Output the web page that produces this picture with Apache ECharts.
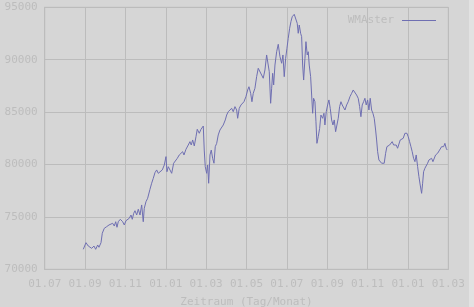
<!DOCTYPE html>
<html><head><meta charset="utf-8">
<script src="https://cdn.jsdelivr.net/npm/echarts@6/dist/echarts.min.js"></script>
<style>html,body{margin:0;padding:0;background:#e2e2e2;}#c{width:469px;height:307px;background:#d6d6d6;}</style>
</head><body><div id="c"></div>
<script>
// time position in two-month steps since 01.07 (first year)
const timeSteps = [0.956,1.023,1.080,1.122,1.164,1.221,1.263,1.313,1.345,1.395,1.427,1.476,1.536,1.593,1.642,1.684,1.724,1.759,1.791,1.823,1.873,1.907,1.932,1.972,2.014,2.056,2.096,2.138,2.170,2.205,2.237,2.279,2.319,2.361,2.403,2.442,2.467,2.509,2.551,2.608,2.650,2.690,2.732,2.774,2.814,2.856,2.913,2.963,3.005,3.029,3.062,3.111,3.146,3.195,
3.228,3.285,3.334,3.376,3.418,3.451,3.500,3.557,3.599,3.631,3.666,3.706,3.748,3.780,3.830,3.872,3.929,3.953,3.978,4.013,4.038,4.062,4.095,4.127,4.161,4.194,4.226,4.261,4.300,4.342,4.384,4.424,4.474,4.508,4.548,4.590,4.632,4.672,4.714,4.756,4.781,4.820,4.863,4.905,4.937,4.986,5.029,5.061,5.103,5.135,5.167,
5.209,5.251,5.291,5.333,5.375,5.415,5.457,5.499,5.539,5.564,5.598,5.623,5.648,5.673,5.705,5.747,5.787,5.829,5.871,5.903,5.935,5.970,6.002,6.034,6.069,6.101,6.133,6.183,6.225,6.257,6.282,6.307,6.341,6.366,6.391,6.416,6.448,6.473,6.505,6.530,6.554,6.589,6.614,6.639,6.663,6.696,6.721,6.745,6.777,6.812,6.844,6.886,6.919,6.943,6.976,7.010,7.042,7.075,7.109,7.142,7.174,7.208,7.241,7.273,7.307,7.340,7.372,7.407,
7.439,7.481,7.520,7.563,7.605,7.644,7.686,7.728,7.768,7.803,7.835,7.867,7.902,7.934,7.966,8.001,8.033,8.065,8.100,8.132,8.165,8.199,8.224,8.249,8.281,8.313,8.348,8.380,8.412,8.447,8.479,8.511,8.546,8.578,8.610,8.645,8.677,8.709,8.744,8.776,8.809,8.843,8.883,8.925,8.975,9.007,9.041,9.074,9.106,9.140,9.173,9.205,9.240,9.272,9.304,9.339,9.364,9.388,9.420,9.453,9.487,9.520,9.552,9.586,9.619,9.651,9.685,9.735,9.784,9.834,9.884,9.916,9.948,9.973];
const wmasterValues = [71910,72540,72220,72410,72000,72220,71910,72320,72100,72540,73440,73910,74070,74230,74130,74390,74130,74540,74010,74540,74770,74960,74540,74230,74640,74450,74870,75180,74770,75340,75590,75180,75730,75180,76140,74540,75820,76450,76780,77630,78210,78680,79220,79480,79160,79310,79480,79950,80750,79310,79790,79640,79160,80120,
80270,80590,80910,80750,81220,80910,81450,81860,82180,81860,82340,81770,82650,83360,82980,83360,83670,81380,79790,79160,79950,78210,80910,81380,80590,80120,81700,82020,82820,83290,83130,83770,84250,84720,85040,84890,85360,85040,85520,85200,84410,85360,85680,85520,85990,86470,87110,87420,86790,85990,86790,
87270,88380,89180,89330,88540,88230,89020,90450,90610,88860,85840,87270,88700,87590,89490,90760,91470,90290,89660,90450,88380,90130,91090,92040,93000,93630,94100,94330,94270,93470,92520,93310,92520,92200,89490,88060,90130,91720,90450,90760,89490,88380,86630,84890,86320,85990,84080,82020,82650,83450,84720,84410,84890,83770,85040,85680,86160,85360,84250,83770,84250,83130,82980,84410,85520,85990,85680,85840,
85200,85680,85990,86470,86790,87110,86950,86630,86320,85520,84560,85680,85990,86320,85680,86160,85200,86320,85200,84890,84410,83290,82340,81220,80430,80590,80120,80270,80120,81070,81700,81550,81860,82020,82180,81860,81700,81860,81550,81380,82340,82500,82500,82980,82980,82650,82180,81700,81220,80590,80270,80910,79790,78840,78040,77250,78210,79310,79640,79790,80120,80430,80270,80590,80270,80270,80910,81070,81380,81700,81700,82020,81550,81380];
const xTickLabels = ['01.07','01.09','01.11','01.01','01.03','01.05','01.07','01.09','01.11','01.01','01.03'];
const seriesName = 'WMAster';
const xAxisTitle = 'Zeitraum (Tag/Monat)';

const chart = echarts.init(document.getElementById('c'), null, {renderer:'canvas'});
const font = "'DejaVu Sans Mono', monospace";
const txt = '#bdbdbd';
const gridCol = '#bcbcbc';
const lineCol = '#6f6fb2';
chart.setOption({
  animation:false,
  backgroundColor:'#d6d6d6',
  grid:{left:44.7, right:20.7, top:7.3, bottom:37.7, show:true, borderColor:gridCol, borderWidth:1, outerBoundsMode:'none', containLabel:false},
  legend:{data:[{name:seriesName, icon:'rect', itemStyle:{color:lineCol}}], right:33, top:10, align:'right', itemWidth:34, itemHeight:1, itemGap:8,
    padding:[5,0,5,5], textStyle:{color:txt, fontFamily:font, fontSize:11, padding:[0,3,0,0]}},
  xAxis:{type:'value', min:0, max:10, interval:1,
    axisLine:{show:true, lineStyle:{color:gridCol}}, axisTick:{show:false},
    splitLine:{show:true, lineStyle:{color:gridCol, width:1}},
    axisLabel:{color:txt, fontFamily:font, fontSize:11, margin:9, formatter:(v)=>xTickLabels[Math.round(v)]},
    name:xAxisTitle, nameLocation:'middle', nameGap:27, nameTextStyle:{color:txt, fontFamily:font, fontSize:11}},
  yAxis:{type:'value', min:70000, max:95000, interval:5000,
    axisLine:{show:true, lineStyle:{color:gridCol}}, axisTick:{show:false},
    splitLine:{show:true, lineStyle:{color:gridCol, width:1}},
    axisLabel:{color:txt, fontFamily:font, fontSize:11, margin:7, formatter:(v)=>String(v)}},
  series:[{name:seriesName, type:'line', showSymbol:false, symbol:'none',
    lineStyle:{color:lineCol, width:1}, itemStyle:{color:lineCol},
    data: timeSteps.map((t,i)=>[t, wmasterValues[i]])}]
});
</script></body></html>
